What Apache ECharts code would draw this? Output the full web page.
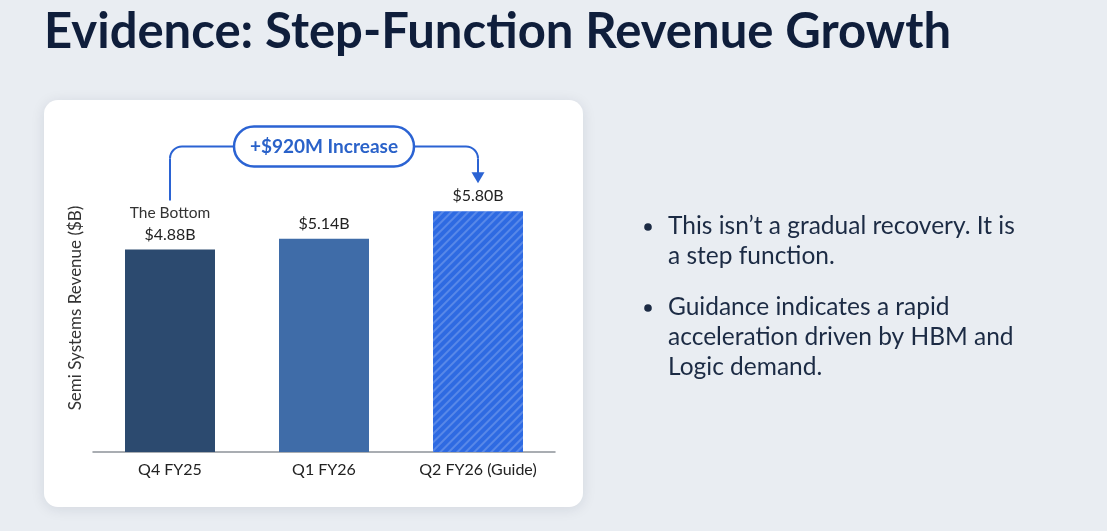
<!DOCTYPE html>
<html>
<head>
<meta charset="utf-8">
<script src="https://cdn.jsdelivr.net/npm/echarts@6/dist/echarts.min.js"></script>
<style>
html,body{margin:0;padding:0;background:#e9edf2;}
#c{width:1107px;height:531px;}
</style>
</head>
<body>
<div id="c"></div>
<script>
const categories = ['Q4 FY25', 'Q1 FY26', 'Q2 FY26 (Guide)'];
const revenue = [4.88, 5.14, 5.80];
const valueLabels = ['$4.88B', '$5.14B', '$5.80B'];
const noteLabel = 'The Bottom';
const increaseLabel = '+$920M Increase';
const titleText = 'Evidence: Step-Function Revenue Growth';
const axisName = 'Semi Systems Revenue ($B)';
const bullets = [
  ['This isn\u2019t a gradual recovery. It is', 'a step function.'],
  ['Guidance indicates a rapid', 'acceleration driven by HBM and', 'Logic demand.']
];

const barColors = ['#2c4a6f', '#3f6ca8', '#2e6ae2'];
const FONT = 'Lato';

const chart = echarts.init(document.getElementById('c'));

const data = revenue.map((v, i) => {
  const item = { value: v, itemStyle: { color: barColors[i] } };
  if (i === 2) {
    item.itemStyle.decal = {
      symbol: 'rect', symbolSize: 1,
      dashArrayX: [1, 0], dashArrayY: [2, 3.5],
      rotation: -Math.PI / 4,
      color: 'rgba(255,255,255,0.2)'
    };
  }
  return item;
});

const card = {
  type: 'rect', shape: { x: 44, y: 100, width: 539, height: 407, r: 14 },
  style: { fill: '#ffffff', shadowBlur: 14, shadowColor: 'rgba(20,30,60,0.10)', shadowOffsetY: 2 },
  z: -10
};

const bulletGraphics = [];
let by = 226;
bullets.forEach((lines) => {
  bulletGraphics.push({
    type: 'circle', shape: { cx: 648, cy: by + 1, r: 3.8 },
    style: { fill: '#1c2b44' }, z: 10
  });
  lines.forEach((ln, li) => {
    bulletGraphics.push({
      type: 'text', x: 668, y: by + li * 30,
      style: { text: ln, font: '24.5px ' + FONT, fill: '#1c2b44', textVerticalAlign: 'middle' },
      z: 10
    });
  });
  by += lines.length * 30 + 21;
});

chart.setOption({
  backgroundColor: '#e9edf2',
  animation: false,
  title: {
    text: titleText, left: 44, top: 8, padding: 0,
    textStyle: { fontFamily: FONT, fontWeight: 'bold', fontSize: 49, color: '#0f1e3b' }
  },
  grid: { left: 93, right: 552, top: 120, bottom: 79 },
  xAxis: {
    type: 'category', data: categories,
    axisLine: { lineStyle: { color: '#8d9299', width: 1.5 } },
    axisTick: { show: false },
    axisLabel: { fontFamily: FONT, fontSize: 16, color: '#222', margin: 10 }
  },
  yAxis: {
    type: 'value', min: 0, max: 8,
    name: axisName, nameLocation: 'middle', nameGap: 9, nameRotate: 90,
    nameTextStyle: { fontFamily: FONT, fontSize: 17, color: '#333', padding: [0, 44, 0, 0] },
    axisLine: { show: false }, axisTick: { show: false },
    axisLabel: { show: false }, splitLine: { show: false }
  },
  series: [{
    type: 'bar', data: data, barWidth: 90, z: 5,
    label: {
      show: true, position: 'top', distance: 5,
      fontFamily: FONT, fontSize: 16, color: '#222',
      formatter: p => p.dataIndex === 0
        ? '{note|' + noteLabel + '}\n{val|' + valueLabels[0] + '}'
        : '{val|' + valueLabels[p.dataIndex] + '}',
      rich: {
        note: { fontFamily: FONT, fontSize: 15.5, color: '#333', lineHeight: 22 },
        val: { fontFamily: FONT, fontSize: 16, color: '#222', lineHeight: 20 }
      }
    }
  }],
  graphic: [card].concat(bulletGraphics)
});

// annotation bracket, anchored to the category positions
const p0 = chart.convertToPixel({ gridIndex: 0 }, [0, revenue[0]]);
const p1 = chart.convertToPixel({ gridIndex: 0 }, [1, revenue[1]]);
const p2 = chart.convertToPixel({ gridIndex: 0 }, [2, revenue[2]]);
const hy = 146.5, r = 12, pillW = 180, pillH = 40;
const pillL = p1[0] - pillW / 2, pillR = p1[0] + pillW / 2;
const blue = '#2b63d3';
const yStart = p0[1] - 49;
const arrowTip = p2[1] - 28, arrowTop = arrowTip - 11;
const ls = { stroke: blue, lineWidth: 2, fill: null };

const annot = [
  { type: 'line', shape: { x1: p0[0], y1: yStart, x2: p0[0], y2: hy + r }, style: ls, z: 20 },
  { type: 'arc', shape: { cx: p0[0] + r, cy: hy + r, r: r, startAngle: Math.PI, endAngle: Math.PI * 1.5, clockwise: true }, style: ls, z: 20 },
  { type: 'line', shape: { x1: p0[0] + r, y1: hy, x2: pillL, y2: hy }, style: ls, z: 20 },
  { type: 'line', shape: { x1: pillR, y1: hy, x2: p2[0] - r, y2: hy }, style: ls, z: 20 },
  { type: 'arc', shape: { cx: p2[0] - r, cy: hy + r, r: r, startAngle: -Math.PI / 2, endAngle: 0, clockwise: true }, style: ls, z: 20 },
  { type: 'line', shape: { x1: p2[0], y1: hy + r, x2: p2[0], y2: arrowTop + 1 }, style: ls, z: 20 },
  { type: 'polygon', shape: { points: [[p2[0] - 6.5, arrowTop], [p2[0] + 6.5, arrowTop], [p2[0], arrowTip]] }, style: { fill: blue }, z: 20 },
  { type: 'rect', shape: { x: pillL, y: hy - pillH / 2, width: pillW, height: pillH, r: 20 },
    style: { fill: '#fff', stroke: blue, lineWidth: 2.5 }, z: 21 },
  { type: 'text', x: p1[0], y: hy,
    style: { text: increaseLabel, font: 'bold 19px ' + FONT, fill: '#2a62c9', textAlign: 'center', textVerticalAlign: 'middle' }, z: 22 }
];

chart.setOption({ graphic: [card].concat(bulletGraphics).concat(annot) }, { replaceMerge: ['graphic'] });
</script>
</body>
</html>
